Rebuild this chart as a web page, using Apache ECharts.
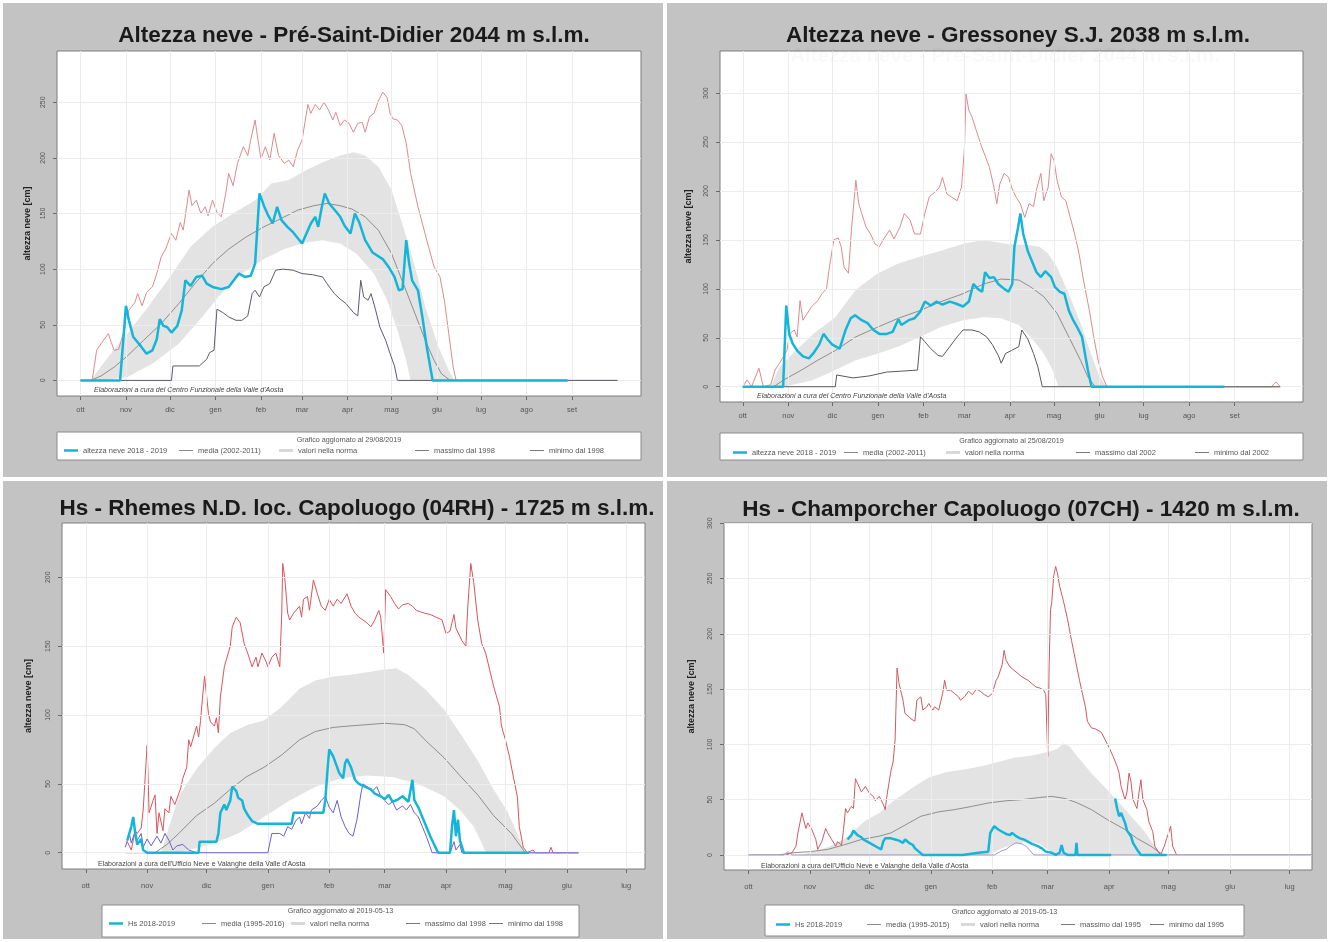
<!DOCTYPE html>
<html>
<head>
<meta charset="utf-8">
<script src="https://cdn.jsdelivr.net/npm/echarts@6/dist/echarts.min.js"></script>
<style>
html,body{margin:0;padding:0;background:#ffffff;}
#chart{width:1330px;height:942px;}
</style>
</head>
<body>
<div id="chart"></div>
<script>
// Giorni dall'1 ottobre 2018 (asse x) e altezza neve in cm (asse y)
const mesiEtichette = ['ott','nov','dic','gen','feb','mar','apr','mag','giu','lug','ago','set'];
const inizioMese = [0,31,61,92,123,151,182,212,243,273,304,335];

// --- Pré-Saint-Didier 2044 m ---
const preCorrente = [[0,0],[27,0],[31,67],[33,54],[36,39],[41,31],[45,24],[49,27],[52,37],[54,55],[56.5,49],[59,48],[62,43],[66,49],[69,63],[71.5,90],[75,85],[79,93],[83,94],[86,87],[90,84],[96,82],[101,84],[105,91],[108,96],[112,93],[116,94],[119,105],[122,168],[125,157],[128,148],[131,141],[134,156],[137,144],[141,138],[145,133],[151,123],[154,132],[157,141],[160,147],[162,138],[164.5,156],[166.5,168],[169.5,159],[174,152],[177,147],[180,139],[184,132],[187,150],[190,142],[194,126],[199,115],[206,109],[210,102],[214,93],[217,81],[219.5,82],[222,126],[224,105],[226,90],[230,81],[233,57],[236,30],[240,0],[332,0]];
const preMedia = [[0,0],[7,0],[14,4],[23,12],[32,22],[43,36],[55,51],[67,69],[78,87],[90,105],[101,118],[113,129],[125,138],[136,145],[148,153],[159,157],[168,159],[177,157],[185,154],[194,147],[203,135],[212,114],[220,87],[228,60],[235,36],[241,18],[246,6],[252,0],[366,0]];
const preNormaSup = [[7,0],[17,18],[32,42],[46,66],[61,93],[75,120],[90,138],[104,150],[119,162],[130,177],[142,180],[154,189],[165,196],[177,202],[186,205],[194,202],[203,192],[212,171],[220,138],[228,102],[235,66],[244,30],[251,9],[255,0]];
const preNormaInf = [[7,0],[12,0],[32,3],[49,15],[67,33],[81,54],[96,78],[110,96],[125,109],[139,118],[154,124],[165,126],[177,123],[188,114],[200,96],[209,72],[216,45],[222,18],[225,0],[255,0]];
const preMax = [[8,0],[11,27],[14,33],[19,42],[21,34],[23,27],[26,28],[30,46],[33,63],[37,70],[39,78],[42,67],[45,79],[49,84],[52,96],[55,111],[58,118],[62,132],[65,126],[68,142],[70,135],[74,171],[76,157],[79,162],[82,150],[85,156],[87,148],[90,162],[93,151],[96,147],[99,168],[101,186],[104,175],[107,195],[111,210],[114,202],[116,216],[119,234],[121,216],[123,199],[126,210],[129,198],[132,222],[135,202],[139,195],[142,198],[145,192],[148,207],[151,216],[155,248],[157,240],[160,248],[163,243],[166,250],[169,243],[172,234],[174,241],[177,229],[180,234],[183,231],[186,223],[189,231],[192,232],[194,223],[197,237],[200,240],[203,251],[206,259],[209,254],[211,240],[213,235],[216,234],[219,229],[222,213],[225,186],[230,156],[236,126],[241,102],[245,93],[248,72],[251,42],[254,12],[256,0]];
const preMin = [[0,0],[62,0],[63,13],[81,13],[86,19],[88,25],[91,27],[93,64],[97,61],[101,57],[106,54],[110,54],[114,58],[117,78],[119,81],[122,75],[125,84],[129,87],[133,99],[138,100],[145,99],[151,96],[158,95],[165,93],[168,87],[173,78],[177,73],[181,69],[186,61],[189,58],[191,90],[193,75],[196,72],[198,78],[201,64],[204,48],[208,36],[211,24],[214,13],[216,0],[366,0]];

// --- Gressoney S.J. 2038 m ---
const grsCorrente = [[0,0],[27.5,0],[29.6,83],[31.6,54],[34,44],[37,37],[41,31],[45,29],[48,34],[52,43],[55,54],[58,48],[61,43],[66,39],[70,58],[73.5,70],[76.5,73],[81,68],[85,65],[89,58],[93,54],[98,54],[102,56],[106,69],[108,63],[113,68],[117,70],[121,77],[124,87],[128,83],[132,87],[136,84],[141,87],[145,85],[150,82],[154,87],[157,105],[160,100],[163,97],[165,117],[168,111],[171,112],[174,105],[178,100],[181,97],[183.5,105],[185,143],[187.5,163],[189,177],[191,156],[194,139],[197,128],[200,117],[203,112],[206,118],[210,112],[212.5,102],[216,97],[219,95],[222,78],[225,68],[228,60],[231,51],[233,34],[235,17],[237.5,0],[328,0]];
const grsMedia = [[0,0],[21,0],[28,7],[40,17],[51,27],[63,37],[77,51],[92,61],[106,70],[121,78],[135,87],[150,95],[164,105],[176,110],[188,109],[196,102],[205,92],[214,75],[222,51],[230,27],[235,10],[240,0],[366,0]];
const grsNormaSup = [[19,0],[25,20],[34,34],[48,54],[63,71],[77,99],[92,116],[106,126],[121,133],[135,139],[150,146],[164,150],[179,146],[193,145],[202,143],[208,136],[214,122],[222,95],[231,61],[237,34],[243,10],[248,0]];
const grsNormaInf = [[19,0],[28,0],[48,7],[63,17],[77,27],[92,34],[106,41],[121,51],[135,61],[150,68],[164,71],[176,70],[188,63],[196,51],[205,34],[211,17],[215,0],[248,0]];
const grsMax = [[0,0],[3,7],[6,0],[11,19],[14,0],[19,2],[22,17],[25,24],[27,29],[30,37],[32,54],[35,58],[37,51],[39,88],[41,68],[44,75],[47,82],[51,88],[54,95],[57,100],[59,122],[62,150],[65,152],[67,143],[69,122],[72,116],[74,160],[77,211],[79,187],[81,177],[84,163],[87,156],[90,146],[93,143],[96,151],[100,160],[103,151],[107,163],[110,177],[114,170],[117,156],[121,156],[124,177],[127,194],[131,199],[134,204],[136,214],[139,197],[142,194],[146,190],[149,204],[151,245],[152,299],[154,282],[156,276],[159,262],[162,248],[165,236],[168,224],[171,204],[173,187],[175,207],[178,218],[181,214],[183,204],[186,194],[189,187],[192,173],[195,187],[198,184],[200,201],[203,218],[205,190],[208,204],[210,238],[212,231],[214,211],[217,194],[220,190],[223,173],[226,156],[229,136],[232,109],[236,78],[239,51],[242,27],[245,10],[248,0],[360,0],[363,5],[366,0]];
const grsMin = [[0,0],[63,0],[64,12],[75,9],[86,11],[98,15],[109,16],[119,17],[121,51],[124,46],[128,39],[133,32],[136,31],[141,41],[146,51],[150,58],[156,58],[161,56],[166,51],[170,43],[174,32],[176,24],[179,34],[183,37],[188,41],[190,58],[194,49],[198,34],[201,20],[204,0],[366,0]];

// --- Rhemes N.D. loc. Capoluogo 1725 m ---
const rhmCorrente = [[21,9],[23,19],[24,26],[25,14],[26,6],[28,10],[29,2],[31,0],[57,0],[57.5,8],[66,8],[67,14],[68,29],[70,35],[71,31],[73,38],[74,48],[76,45],[77,40],[79,38],[80,32],[82,27],[84,23],[87,21],[104,21],[105,29],[120,29],[121,38],[122,58],[123,75],[125,70],[127,62],[128,58],[130,54],[131,65],[132,68],[134,62],[136,53],[138,50],[141,48],[144,46],[146,43],[149,41],[151,39],[153,42],[155,37],[158,39],[160,41],[163,37],[165,53],[166,38],[168,33],[170,26],[172,19],[174,12],[176,6],[178,0],[184,0],[185,19],[186,31],[187,12],[188,24],[189,9],[191,0],[224,0]];
const rhmMedia = [[20,0],[35,0],[41,6],[47,14],[56,27],[65,36],[73,46],[81,55],[90,62],[99,71],[108,82],[116,88],[125,91],[133,92],[142,93],[151,94],[161,93],[166,90],[172,81],[181,69],[189,56],[198,42],[206,27],[215,14],[222,0],[249,0]];
const rhmNormaSup = [[38,0],[41,14],[47,41],[56,61],[65,76],[73,87],[82,93],[90,96],[99,106],[108,119],[116,125],[125,128],[133,129],[142,131],[151,133],[157,134],[163,129],[172,118],[181,104],[189,87],[198,67],[206,46],[213,30],[218,14],[222,0]];
const rhmNormaInf = [[38,0],[47,0],[65,7],[77,14],[90,26],[103,38],[116,48],[129,54],[142,56],[155,55],[168,50],[181,41],[189,31],[196,19],[200,7],[202,0],[222,0]];
const rhmMax = [[21,8],[23,2],[25,16],[26,14],[28,18],[29,31],[31,78],[32,29],[34,38],[35,42],[36,14],[37,29],[39,16],[40,32],[42,29],[43,41],[45,35],[46,39],[48,47],[49,54],[51,62],[52,82],[53,77],[55,87],[56,92],[57,84],[58,96],[59,113],[60,128],[62,101],[63,95],[65,92],[66,98],[67,87],[68,113],[70,135],[71,140],[73,150],[74,164],[76,171],[78,167],[80,152],[82,144],[84,135],[86,142],[87,135],[89,145],[91,139],[92,135],[94,142],[96,145],[98,135],[99,174],[99.5,210],[100.5,200],[102,174],[103,169],[105,174],[108,179],[109,171],[110,184],[112,186],[113,176],[115,198],[117,188],[119,179],[121,176],[123,184],[125,179],[127,184],[129,181],[132,188],[134,179],[136,174],[138,171],[140,169],[142,167],[144,164],[146,169],[148,176],[149,171],[150.5,145],[151.5,191],[154,186],[156,181],[158,177],[160,180],[163,181],[165,179],[167,176],[169,175],[171,174],[174,173],[177,171],[180,169],[182,159],[184,161],[186,173],[187,163],[190,154],[192,150],[193,179],[194.5,210],[196,196],[198,169],[200,152],[202,145],[204,133],[206,121],[209,106],[210,92],[212,82],[214,70],[216,55],[218,41],[219,19],[221,4],[223,0],[226,2],[227,0],[234,0],[235,4],[236,0],[249,0]];
const rhmMin = [[20,4],[22,14],[23,7],[25,16],[26,9],[28,14],[29,4],[31,10],[33,5],[36,12],[38,7],[40,14],[42,9],[44,2],[46,5],[49,6],[52,2],[56,0],[92,0],[94,14],[98,14],[100,12],[102,19],[104,17],[106,23],[108,26],[109,21],[111,29],[113,25],[114,31],[117,34],[119,38],[121,41],[123,33],[125,29],[127,38],[129,26],[131,19],[133,14],[135,12],[137,24],[139,43],[140,50],[142,48],[145,45],[147,48],[149,41],[151,38],[153,35],[155,37],[157,31],[160,34],[162,31],[164,35],[166,29],[168,26],[170,19],[172,12],[175,0],[184,0],[186,8],[187,2],[189,6],[190,0],[249,0]];

// --- Champorcher Capoluogo 1420 m ---
const chpCorrente = [[50,14],[52,18],[53,22],[55,18],[57,16],[58,14],[60,12],[62,10],[65,7],[67,5],[68,12],[69,15],[72,15],[74,14],[76,13],[78,11],[79,14],[81,11],[83,9],[84,6],[86,3],[88,0],[108,0],[116,2],[121,3],[122,20],[124,26],[126,23],[128,21],[130,19],[132,18],[133,20],[135,17],[137,15],[139,14],[141,12],[143,10],[146,8],[148,6],[150,3],[153,2],[155,0],[157,2],[158,9],[159,2],[161,0],[165,0],[165.5,11],[166,0],[183,0],[184,null],[185,51],[186,42],[187,35],[188,38],[190,29],[191,22],[193,17],[194,11],[196,5],[198,0],[211,0]];
const chpMedia = [[0,0],[15,0],[23,2],[31,3],[40,5],[48,9],[57,14],[66,17],[72,20],[78,26],[87,35],[96,39],[104,41],[113,44],[121,47],[130,49],[138,50],[147,52],[153,53],[160,51],[166,47],[173,41],[181,32],[190,23],[196,15],[203,8],[209,0],[295,0]];
const chpNormaSup = [[25,0],[29,1],[40,7],[48,14],[54,23],[59,31],[66,38],[74,50],[83,61],[91,70],[100,75],[108,77],[117,80],[126,84],[134,88],[143,90],[151,93],[156,96],[159,101],[162,98],[166,89],[173,74],[181,59],[190,41],[199,23],[205,8],[209,0]];
const chpNormaInf = [[25,0],[121,0],[128,6],[134,10],[141,12],[147,10],[151,5],[155,0],[209,0]];
const chpMax = [[19,0],[22,2],[24,8],[25,20],[27,38],[29,24],[30,29],[32,23],[34,14],[35,5],[37,12],[39,24],[40,20],[42,14],[44,8],[45,12],[47,9],[48,23],[49,42],[50,38],[52,44],[53,42],[54,69],[55,65],[57,57],[59,62],[61,56],[63,53],[64,49],[66,53],[68,46],[69,41],[70,55],[72,77],[73,84],[74,104],[75,169],[76,155],[78,140],[79,128],[81,125],[82,123],[84,121],[85,140],[87,143],[88,131],[90,134],[91,137],[93,131],[94,134],[96,131],[98,146],[99,158],[100,149],[102,149],[104,146],[106,143],[107,140],[109,143],[111,148],[113,145],[115,150],[117,148],[119,145],[121,143],[123,146],[125,158],[126,161],[128,172],[129,185],[130,176],[132,170],[134,167],[136,164],[138,161],[141,158],[143,155],[145,152],[147,151],[149,149],[150,145],[151,89],[151.7,170],[152.4,222],[153,228],[154,252],[155,261],[156,254],[157,243],[159,229],[161,213],[163,194],[165,176],[167,158],[170,134],[171,121],[173,115],[175,114],[178,111],[180,104],[182,97],[184,89],[186,80],[187,74],[188,62],[190,50],[191,57],[192,74],[193,66],[194,50],[196,42],[197,56],[198,68],[199,50],[201,41],[202,30],[204,21],[205,8],[207,2],[208,0],[210,9],[211,15],[212,20],[213,26],[214,8],[216,0]];
const chpMin = [[0,0],[18,0],[20,3],[22,0],[124,0],[128,4],[130,5],[132,8],[135,11],[138,10],[140,8],[142,4],[144,0],[295,0]];

const FONT = '"Liberation Sans", Arial, sans-serif';

// Impaginazione dei quattro riquadri
const pannelli = [
  {
    titolo: 'Altezza neve - Pré-Saint-Didier 2044 m s.l.m.', tx: 349, ty: 19,
    grid: {left: 57, top: 51, width: 584, height: 345},
    xr: [-16, 382], yr: [-14, 296], nMesi: 12, yTick: [0,50,100,150,200,250],
    xMargin: 10, nameGap: 25,
    dati: {cor: preCorrente, med: preMedia, sup: preNormaSup, inf: preNormaInf, max: preMax, min: preMin},
    nomi: ['altezza neve 2018 - 2019','media (2002-2011)','valori nella norma','massimo dal 1998','minimo dal 1998'],
    colMax: '#dc8a91', colMin: '#5c5b70',
    legX: [64,179,279,415,530], legY: 446,
    box: [57,432,584,28], boxTit: 'Grafico aggiornato al 29/08/2019', boxTitY: 440,
    nota: "Elaborazioni a cura del Centro Funzionale della Valle d'Aosta", notaX: 94, notaY: 390, notaCorsivo: true
  },
  {
    titolo: 'Altezza neve - Gressoney S.J. 2038 m s.l.m.', tx: 1013, ty: 19,
    grid: {left: 720, top: 51, width: 583, height: 351},
    xr: [-15.5, 381.5], yr: [-15.6, 343], nMesi: 12, yTick: [0,50,100,150,200,250,300],
    xMargin: 10, nameGap: 27,
    dati: {cor: grsCorrente, med: grsMedia, sup: grsNormaSup, inf: grsNormaInf, max: grsMax, min: grsMin},
    nomi: ['altezza neve 2018 - 2019','media (2002-2011)','valori nella norma','massimo dal 2002','minimo dal 2002'],
    colMax: '#dc8a91', colMin: '#5a5a5a',
    legX: [733,844,946,1076,1195], legY: 448,
    box: [720,433,583,27], boxTit: 'Grafico aggiornato al 25/08/2019', boxTitY: 441,
    nota: "Elaborazioni a cura del Centro Funzionale della Valle d'Aosta", notaX: 757, notaY: 396.5, notaCorsivo: true
  },
  {
    titolo: 'Hs - Rhemes N.D. loc. Capoluogo (04RH) - 1725 m s.l.m.', tx: 352, ty: 492,
    grid: {left: 62, top: 523, width: 583, height: 346},
    xr: [-12, 282.5], yr: [-11.8, 239.4], nMesi: 10, yTick: [0,50,100,150,200],
    xMargin: 13, nameGap: 29,
    dati: {cor: rhmCorrente, med: rhmMedia, sup: rhmNormaSup, inf: rhmNormaInf, max: rhmMax, min: rhmMin},
    nomi: ['Hs 2018-2019','media (1995-2016)','valori nella norma ','massimo dal 1998','minimo dal 1998'],
    colMax: '#d9545d', colMin: '#6a60cc',
    legX: [109,202,291,406,489], legY: 919,
    box: [102,905,477,32], boxTit: 'Grafico aggiornato al 2019-05-13', boxTitY: 911,
    nota: "Elaborazioni a cura dell'Ufficio Neve e Valanghe della Valle d'Aosta", notaX: 98, notaY: 864, notaCorsivo: false
  },
  {
    titolo: 'Hs - Champorcher Capoluogo (07CH) - 1420 m s.l.m.', tx: 1016, ty: 493,
    grid: {left: 724, top: 523, width: 588, height: 347},
    xr: [-12.3, 284.3], yr: [-13.6, 300.2], nMesi: 10, yTick: [0,50,100,150,200,250,300],
    xMargin: 13, nameGap: 28,
    dati: {cor: chpCorrente, med: chpMedia, sup: chpNormaSup, inf: chpNormaInf, max: chpMax, min: chpMin},
    nomi: ['Hs 2018-2019 ','media (1995-2015)','valori nella norma  ','massimo dal 1995','minimo dal 1995'],
    colMax: '#cf5a63', colMin: '#a397c9',
    legX: [776,867,961,1061,1150], legY: 920,
    box: [765,905,479,31], boxTit: 'Grafico aggiornato al 2019-05-13', boxTitY: 912,
    nota: "Elaborazioni a cura dell'Ufficio Neve e Valanghe della Valle d'Aosta", notaX: 761, notaY: 866.5, notaCorsivo: false
  }
];

const COL_COR = '#14b5d9';
const COL_MED = '#8e8e8e';
const COL_BAND = '#e3e3e3';

const grids = [], xAxes = [], yAxes = [], series = [], titles = [], legends = [], graphics = [];

// Sfondo grigio dei quattro riquadri
graphics.push(
  {type:'rect', shape:{x:3,y:3,width:660,height:474}, style:{fill:'#c3c3c3'}, z:-5, silent:true},
  {type:'rect', shape:{x:667,y:3,width:660,height:474}, style:{fill:'#c3c3c3'}, z:-5, silent:true},
  {type:'rect', shape:{x:3,y:481,width:660,height:458}, style:{fill:'#c3c3c3'}, z:-5, silent:true},
  {type:'rect', shape:{x:667,y:481,width:660,height:458}, style:{fill:'#c3c3c3'}, z:-5, silent:true}
);

function serieLinea(nome, dati, i, colore, spessore, z) {
  return {
    type: 'line', name: nome, data: dati, xAxisIndex: i, yAxisIndex: i,
    showSymbol: false, symbol: 'none', z: z, clip: true, silent: true, animation: false,
    lineStyle: {color: colore, width: spessore}, itemStyle: {color: colore},
    emphasis: {disabled: true}
  };
}

function serieFascia(nome, sup, inf, i) {
  return {
    type: 'custom', name: nome, coordinateSystem: 'cartesian2d', xAxisIndex: i, yAxisIndex: i,
    data: [[0, 0]], encode: {x: 0, y: 1}, z: 2, clip: true, silent: true, animation: false,
    itemStyle: {color: COL_BAND},
    renderItem: function (params, api) {
      const pts = sup.map(p => api.coord(p)).concat(inf.slice().reverse().map(p => api.coord(p)));
      return {type: 'polygon', shape: {points: pts}, style: {fill: COL_BAND}};
    }
  };
}

pannelli.forEach((p, i) => {
  const mesi = inizioMese.slice(0, p.nMesi);
  grids.push(Object.assign({show: true, backgroundColor: '#ffffff', borderColor: '#7d7d7d', borderWidth: 1, containLabel: false}, p.grid));
  xAxes.push({
    type: 'value', gridIndex: i, min: p.xr[0], max: p.xr[1],
    axisLine: {show: false, onZero: false},
    axisTick: {show: true, customValues: mesi, length: 4, lineStyle: {color: '#6a6a6a'}},
    axisLabel: {show: true, customValues: mesi, margin: p.xMargin, fontSize: 7.5, color: '#555', fontFamily: FONT,
      formatter: v => mesiEtichette[inizioMese.indexOf(v)]},
    splitLine: {show: false}
  });
  yAxes.push({
    type: 'value', gridIndex: i, min: p.yr[0], max: p.yr[1],
    name: 'altezza neve [cm]', nameLocation: 'middle', nameGap: p.nameGap, nameRotate: 90,
    nameTextStyle: {fontSize: 9, fontWeight: 'bold', color: '#222', fontFamily: FONT},
    axisLine: {show: false, onZero: false},
    axisTick: {show: true, customValues: p.yTick, length: 4, lineStyle: {color: '#6a6a6a'}},
    axisLabel: {show: true, customValues: p.yTick, rotate: 90, margin: 10, fontSize: 7, color: '#555', fontFamily: FONT},
    splitLine: {show: false}
  });

  // griglia leggera ai mesi e alle tacche dell'asse y
  series.push({
    type: 'line', xAxisIndex: i, yAxisIndex: i, data: [[-1000, -1000]], z: 1, silent: true, animation: false,
    showSymbol: false, lineStyle: {opacity: 0},
    markLine: {
      silent: true, symbol: ['none', 'none'], label: {show: false}, animation: false,
      lineStyle: {color: '#ececec', width: 1, type: 'solid'},
      emphasis: {disabled: true},
      data: mesi.map(m => ({xAxis: m})).concat(p.yTick.map(v => ({yAxis: v})))
    }
  });

  const d = p.dati;
  series.push(serieFascia(p.nomi[2], d.sup, d.inf, i));
  series.push(serieLinea(p.nomi[1], d.med, i, COL_MED, 1, 3));
  series.push(serieLinea(p.nomi[3], d.max, i, p.colMax, 1, 4));
  series.push(serieLinea(p.nomi[4], d.min, i, p.colMin, 1, 5));
  series.push(serieLinea(p.nomi[0], d.cor, i, COL_COR, 2.5, 6));

  titles.push({
    text: p.titolo, left: p.tx, top: p.ty, textAlign: 'center',
    textStyle: {fontSize: 22.5, fontWeight: 'bold', color: '#1a1a1a', fontFamily: FONT}
  });

  // riquadro della legenda con titolo
  graphics.push({type: 'rect', shape: {x: p.box[0], y: p.box[1], width: p.box[2], height: p.box[3]},
    style: {fill: '#ffffff', stroke: '#8a8a8a', lineWidth: 1}, z: 1, silent: true});
  graphics.push({type: 'text', x: p.box[0] + p.box[2] / 2, y: p.boxTitY, z: 10, silent: true,
    style: {text: p.boxTit, fill: '#555', font: '7.2px ' + FONT, textAlign: 'center', textVerticalAlign: 'middle'}});
  graphics.push({type: 'text', x: p.notaX, y: p.notaY, z: 10, silent: true,
    style: {text: p.nota, fill: '#444', font: (p.notaCorsivo ? 'italic ' : '') + '7px ' + FONT, textAlign: 'left', textVerticalAlign: 'middle'}});

  // voci di legenda: simbolo a trattino, spessore diverso per la stagione in corso
  const stili = [
    {col: COL_COR, h: 2.5},
    {col: '#8a8a8a', h: 1},
    {col: '#d8d8d8', h: 3},
    {col: '#7a7a7a', h: 1},
    {col: '#7a7a7a', h: 1}
  ];
  p.nomi.forEach((n, k) => {
    legends.push({
      data: [{name: n, icon: 'rect', itemStyle: {color: stili[k].col, borderWidth: 0}}],
      left: p.legX[k], top: p.legY, padding: 0, itemGap: 5,
      itemWidth: 14, itemHeight: stili[k].h, selectedMode: false,
      textStyle: {fontSize: 7.5, color: '#555', fontFamily: FONT, lineHeight: 9}
    });
  });
});

// traccia chiara del titolo che traspare nel riquadro di Gressoney
graphics.push({type: 'text', x: 1005, y: 56, z: 10, silent: true,
  style: {text: 'Altezza neve - Pré-Saint-Didier 2044 m s.l.m.', fill: 'rgba(0,0,0,0.025)',
    font: 'bold 20.5px ' + FONT, textAlign: 'center', textVerticalAlign: 'middle'}});

const chart = echarts.init(document.getElementById('chart'), null, {renderer: 'canvas', width: 1330, height: 942});
chart.setOption({
  backgroundColor: '#ffffff',
  animation: false,
  textStyle: {fontFamily: FONT},
  title: titles,
  grid: grids,
  xAxis: xAxes,
  yAxis: yAxes,
  legend: legends,
  graphic: {elements: graphics},
  series: series
});
</script>
</body>
</html>
